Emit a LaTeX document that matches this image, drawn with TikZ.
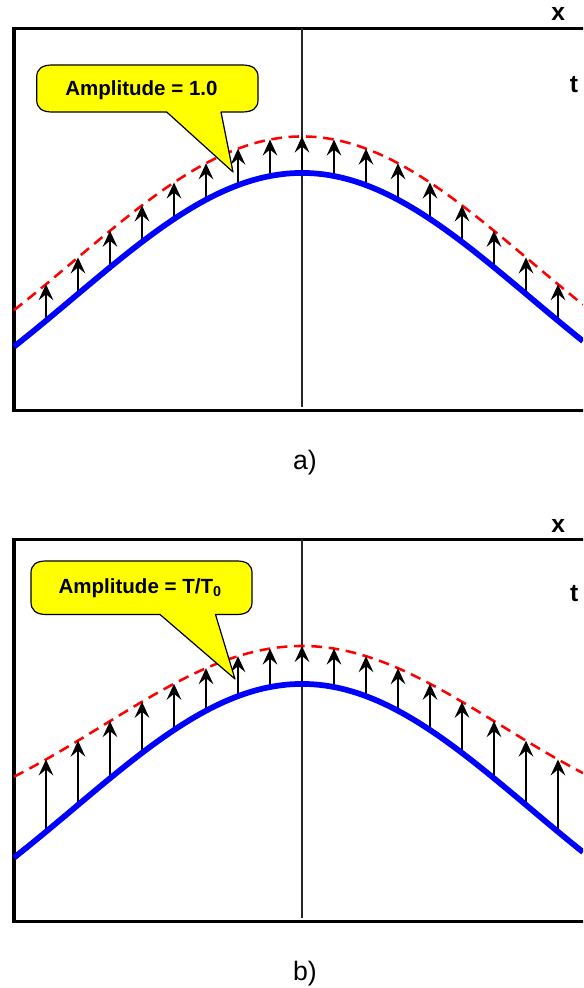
\documentclass[tikz,border=0pt]{standalone}
\usepackage{fontspec}
\setmainfont{Liberation Sans}
\usetikzlibrary{arrows.meta}
\definecolor{cyellow}{RGB}{255,255,0}
\definecolor{cblue}{RGB}{0,0,255}
\definecolor{cred}{RGB}{255,0,0}
\tikzset{
  frame/.style={line width=2.5pt, draw=black},
  axisline/.style={line width=1.1pt, draw=black!85},
  bluecurve/.style={line width=4.3pt, draw=cblue},
  redcurve/.style={line width=1.9pt, draw=cred, dash pattern=on 8pt off 5pt},
  vecarrow/.style={line width=1.5pt, -{Stealth[length=12pt,width=11pt,inset=4.5pt]}},
  callout/.style={fill=cyellow, draw=black, line width=0.9pt, line join=round},
  calltext/.style={inner sep=0pt, font=\fontsize{15.4}{18}\selectfont\bfseries},
  axlbl/.style={inner sep=0pt, font=\fontsize{18.5}{22}\selectfont\bfseries},
  caplbl/.style={inner sep=0pt, anchor=base, font=\fontsize{20}{24}\selectfont}
}
\begin{document}
\begin{tikzpicture}[x=0.75pt,y=-0.75pt]
\useasboundingbox (0,0) rectangle (583,988);
\clip (0,0) rectangle (583,988);
\fill[white] (0,0) rectangle (583,988);

% ---------------- panel a ----------------
\draw[frame] (14,28.5) rectangle (700,410.5);
\coordinate (vaT) at (302,28.5);
\coordinate (vaB) at (302,407);
\draw[axisline] (vaT) -- (vaB);
\draw[redcurve] plot[domain=14:583, samples=120] (\x, {136.5+316*(1-exp(-((\x-302)/100)^2/10.3968))});
\foreach \k in {-8,...,8}{
  \pgfmathsetmacro{\xx}{302+32*\k}
  \pgfmathsetmacro{\yb}{173+316*(1-exp(-((\xx-302)/100)^2/10.3968))}
  \pgfmathsetmacro{\yr}{\yb-36.5}
  \coordinate (ab\k) at (\xx,\yb);
  \coordinate (ar\k) at (\xx,\yr);
  \draw[vecarrow] (ab\k) -- (ar\k);
}
\draw[bluecurve] plot[domain=14:583, samples=120] (\x, {173+316*(1-exp(-((\x-302)/100)^2/10.3968))});
\path[callout] (166.7,112) -- (52,112) .. controls (42,112) and (36.7,108) .. (36.7,100)
  -- (36.7,77) .. controls (36.7,69) and (42,65) .. (52,65)
  -- (242,65) .. controls (253,65) and (258,69) .. (258,77)
  -- (258,100) .. controls (258,108) and (253,112) .. (242,112)
  -- (221,112) -- (233,172) -- cycle;
\node[calltext, anchor=base west] (ca) at (65,96) {Amplitude = 1.0};
\node[axlbl] (xa) at (558.3,14) {x};
\node[axlbl] (ta) at (574,84.3) {t};
\node[caplbl] (la) at (305,469.3) {a)};

% ---------------- panel b ----------------
\draw[frame] (14,539.3) rectangle (700,921.7);
\coordinate (vbT) at (302,539.3);
\coordinate (vbB) at (302,918);
\draw[axisline] (vbT) -- (vbB);
\draw[redcurve] plot[domain=14:583, samples=120] (\x, {646+200*(1-exp(-((\x-302)/100)^2/7.8249))});
\foreach \k in {-8,...,8}{
  \pgfmathsetmacro{\xx}{302+32*\k}
  \pgfmathsetmacro{\yb}{684+316*(1-exp(-((\xx-302)/100)^2/10.3968))}
  \pgfmathsetmacro{\yr}{646+200*(1-exp(-((\xx-302)/100)^2/7.8249))}
  \coordinate (bb\k) at (\xx,\yb);
  \coordinate (br\k) at (\xx,\yr);
  \draw[vecarrow] (bb\k) -- (br\k);
}
\draw[bluecurve] plot[domain=14:583, samples=120] (\x, {684+316*(1-exp(-((\x-302)/100)^2/10.3968))});
\path[callout] (160,614.5) -- (46,614.5) .. controls (36,614.5) and (31,610) .. (31,602)
  -- (31,573) .. controls (31,565) and (36,561) .. (46,561)
  -- (237,561) .. controls (247,561) and (252,565) .. (252,573)
  -- (252,602) .. controls (252,610) and (247,614.5) .. (237,614.5)
  -- (215.5,614.5) -- (235,679) -- cycle;
\node[calltext, anchor=base west] (cb) at (58.3,593.3) {Amplitude = T/T\textsubscript{0}};
\node[axlbl] (xb) at (558.3,526.3) {x};
\node[axlbl] (tb) at (574.3,593.7) {t};
\node[caplbl] (lb) at (305,980.7) {b)};
\end{tikzpicture}
\end{document}
